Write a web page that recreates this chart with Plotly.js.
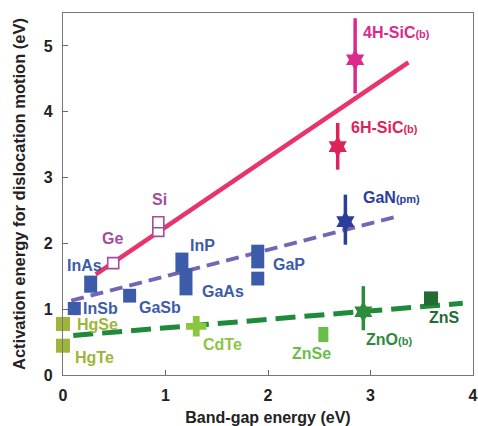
<!DOCTYPE html>
<html>
<head>
<meta charset="utf-8">
<script src="https://cdn.plot.ly/plotly-3.0.1.min.js"></script>
<style>html,body{margin:0;padding:0;background:#fff;}#chart{width:478px;height:426px;}</style>
</head>
<body>
<div id="chart"></div>
<script>
// ---- Data (band-gap energy in eV, activation energy in eV) ----
// Fitted trend lines
const sicFitGap = [0.32, 3.37];
const sicFitEa  = [1.53, 4.75];
const iiiVFitGap = [0.08, 3.29];
const iiiVFitEa  = [1.13, 2.42];
const iiVIFitGap = [0.10, 3.90];
const iiVIFitEa  = [0.60, 1.09];

// III-V compounds (activation energy ranges)
const iiiVNames = ['InSb', 'InAs', 'GaSb', 'InP', 'GaAs', 'GaP', 'GaP'];
const iiiVGap   = [0.11, 0.27, 0.65, 1.16, 1.20, 1.90, 1.90];
const iiiVLow   = [0.91, 1.25, 1.10, 1.56, 1.21, 1.62, 1.36];
const iiiVHigh  = [1.11, 1.51, 1.31, 1.86, 1.62, 1.98, 1.57];

// Elemental semiconductors (open squares)
const elemNames = ['Ge', 'Si', 'Si'];
const elemGap   = [0.49, 0.93, 0.93];
const elemEa    = [1.70, 2.19, 2.32];

// Hg compounds
const hgNames = ['HgSe', 'HgTe'];
const hgGap   = [0.0, 0.0];
const hgEa    = [0.775, 0.445];

// Stars with error bars
const starNames = ['4H-SiC(b)', '6H-SiC(b)', 'GaN(pm)', 'ZnO(b)'];
const starGap   = [2.85, 2.68, 2.755, 2.93];
const starEa    = [4.79, 3.47, 2.33, 0.96];
const starLow   = [4.28, 3.12, 1.98, 0.68];
const starHigh  = [5.42, 3.83, 2.74, 1.35];

// Other II-VI
const cdteGap = [1.30]; const cdteEa = [0.74];
const znseGap = [2.54]; const znseLow = [0.50]; const znseHigh = [0.73];
const znsGap  = [3.59]; const znsLow  = [1.06]; const znsHigh  = [1.27];

// Axis ticks
const xTicks = [0, 1, 2, 3, 4];
const yTicks = [0, 1, 2, 3, 4, 5];

// ---- Colours ----
const C = {
  pinkLine: '#E8336D', sic4h: '#DB2A8C', sic6h: '#DC2459',
  purpleLine: '#7367B5', blue: '#3C5CAA', gan: '#2C3D9A',
  elem: '#A24E9E', green: '#1E8B3B', hg: '#9DB63A', cdte: '#8CC63F',
  znse: '#6BBD4A', zno: '#2E8B3D', zns: '#236B32'
};

const traces = [];
// Trend lines
traces.push({x: sicFitGap, y: sicFitEa, mode: 'lines', line: {color: C.pinkLine, width: 4.5}, hoverinfo: 'skip'});
traces.push({x: iiiVFitGap, y: iiiVFitEa, mode: 'lines', line: {color: C.purpleLine, width: 4, dash: '13px,7px'}, hoverinfo: 'skip'});
traces.push({x: iiVIFitGap, y: iiVIFitEa, mode: 'lines', line: {color: C.green, width: 5, dash: '20px,9px'}, hoverinfo: 'skip'});

// range rectangle helper (drawn as thick error bars)
function rangeTrace(xs, lo, hi, color, thick, names) {
  return {
    x: xs, y: lo, text: names, mode: 'markers',
    marker: {size: 1, opacity: 0},
    error_y: {type: 'data', symmetric: false, array: hi.map((h, i) => h - lo[i]),
              arrayminus: lo.map(() => 0), thickness: thick, width: 0, color: color},
    hoverinfo: 'x+text'
  };
}
traces.push(rangeTrace(iiiVGap, iiiVLow, iiiVHigh, C.blue, 13, iiiVNames));
traces.push(rangeTrace(znseGap, znseLow, znseHigh, C.znse, 10, ['ZnSe']));
traces.push(rangeTrace(znsGap, znsLow, znsHigh, C.zns, 14, ['ZnS']));

// Hg compounds
traces.push({x: hgGap, y: hgEa, text: hgNames, mode: 'markers', cliponaxis: false,
  marker: {symbol: 'square', size: 14, color: C.hg}, hoverinfo: 'text+y'});

// Elemental open squares
traces.push({x: elemGap, y: elemEa, text: elemNames, mode: 'markers',
  marker: {symbol: 'square', size: 11, color: '#ffffff', line: {color: C.elem, width: 1.6}}, hoverinfo: 'text+y'});

// CdTe
traces.push({x: cdteGap, y: cdteEa, mode: 'markers', marker: {symbol: 'cross', size: 17, color: C.cdte}, hoverinfo: 'y'});

// Stars with error bars
const starColors = [C.sic4h, C.sic6h, C.gan, C.zno];
starNames.forEach((n, i) => {
  traces.push({x: [starGap[i]], y: [starEa[i]], text: [n], mode: 'markers',
    marker: {symbol: 'hexagram', size: 16, color: starColors[i]},
    error_y: {type: 'data', symmetric: false, array: [starHigh[i] - starEa[i]],
              arrayminus: [starEa[i] - starLow[i]], thickness: 3.5, width: 0, color: starColors[i]},
    hoverinfo: 'text+y'});
});

// Labels
const sm = s => '<span style="font-size:11px">' + s + '</span>';
const labels = [
  ['4H-SiC' + sm('(b)'), 2.92, 5.21, C.sic4h],
  ['6H-SiC' + sm('(b)'), 2.80, 3.76, C.sic6h],
  ['GaN' + sm('(pm)'), 2.92, 2.69, C.gan],
  ['Si', 0.86, 2.66, C.elem],
  ['Ge', 0.37, 2.07, C.elem],
  ['InAs', 0.03, 1.67, C.blue],
  ['InP', 1.23, 1.97, C.blue],
  ['InSb', 0.19, 1.01, C.blue],
  ['GaSb', 0.73, 1.02, C.blue],
  ['GaAs', 1.35, 1.27, C.blue],
  ['GaP', 2.04, 1.68, C.blue],
  ['HgSe', 0.13, 0.77, C.hg],
  ['HgTe', 0.11, 0.27, C.hg],
  ['CdTe', 1.36, 0.46, C.cdte],
  ['ZnSe', 2.22, 0.32, C.znse],
  ['ZnO' + sm('(b)'), 2.95, 0.54, C.zno],
  ['ZnS', 3.565, 0.87, C.zns]
];
const annotations = labels.map(l => ({
  text: l[0], x: l[1], y: l[2], xref: 'x', yref: 'y', xanchor: 'left', yanchor: 'middle',
  showarrow: false, borderpad: 0,
  font: {family: 'Liberation Sans, Arial, sans-serif', size: 16, color: l[3], weight: 'bold'}
}));

const axisFont = {family: 'Liberation Sans, Arial, sans-serif', size: 16, color: '#222', weight: 'bold'};
const layout = {
  width: 478, height: 426,
  margin: {l: 63, r: 5, t: 13, b: 51},
  paper_bgcolor: '#fff', plot_bgcolor: '#fff',
  showlegend: false,
  xaxis: {
    range: [0, 4], tickvals: xTicks, ticks: 'inside', ticklen: 5, tickcolor: '#666',
    showline: true, mirror: true, linecolor: '#777', linewidth: 1.2,
    showgrid: false, zeroline: false, tickfont: axisFont, ticklabelstandoff: 6,
    title: {text: 'Band-gap energy (eV)', font: {family: 'Liberation Sans, Arial, sans-serif', size: 16, color: '#222', weight: 'bold'}, standoff: 8}
  },
  yaxis: {
    range: [0, 5.5], tickvals: yTicks, ticks: 'inside', ticklen: 5, tickcolor: '#666',
    showline: true, mirror: true, linecolor: '#777', linewidth: 1.2,
    showgrid: false, zeroline: false, tickfont: axisFont, ticklabelstandoff: 6,
    title: {text: 'Activation energy for dislocation motion (eV)', font: {family: 'Liberation Sans, Arial, sans-serif', size: 16.5, color: '#222', weight: 'bold'}, standoff: 14}
  },
  annotations: annotations
};

Plotly.newPlot('chart', traces, layout, {displayModeBar: false, staticPlot: true});
</script>
</body>
</html>
